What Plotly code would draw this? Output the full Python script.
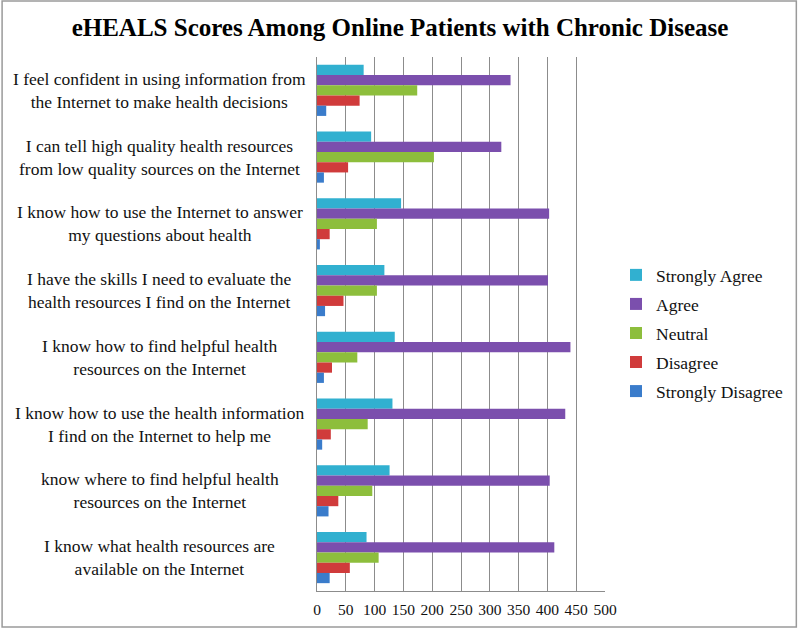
import plotly.graph_objects as go

category_lines = [
    ("I feel confident in using information from", "the Internet to make health decisions"),
    ("I can tell high quality health resources", "from low quality sources on the Internet"),
    ("I know how to use the Internet to answer", "my questions about health"),
    ("I have the skills I need to evaluate the", "health resources I find on the Internet"),
    ("I know how to find helpful health", "resources on the Internet"),
    ("I know how to use the health information", "I find on the Internet to help me"),
    ("know where to find helpful health", "resources on the Internet"),
    ("I know what health resources are", "available on the Internet"),
]
categories = [a + "<br>" + b for a, b in category_lines]
strongly_agree = [81, 94, 146, 117, 135, 131, 126, 86]
agree = [336, 320, 403, 401, 440, 431, 404, 412]
neutral = [174, 203, 104, 104, 70, 88, 96, 107]
disagree = [74, 54, 22, 46, 26, 24, 37, 57]
strongly_disagree = [16, 12, 5, 14, 12, 9, 20, 22]

series = [
    ("Strongly Agree", strongly_agree, "#31B0D0"),
    ("Agree", agree, "#7B4FAD"),
    ("Neutral", neutral, "#8DBE3C"),
    ("Disagree", disagree, "#D03B3B"),
    ("Strongly Disagree", strongly_disagree, "#3A7CCB"),
]
tick_vals = [0, 50, 100, 150, 200, 250, 300, 350, 400, 450, 500]

FONT = "Liberation Serif"
fig = go.Figure()
for i, (name, vals, col) in enumerate(series):
    fig.add_trace(go.Bar(y=categories, x=vals, name=name, orientation="h",
                         legendgroup="g%d" % i,
                         marker=dict(color=col, line=dict(width=0))))

L, R, T, B = 317, 194, 57, 38
W, H = 800, 629
pw, ph = W - L - R, H - T - B

for c in categories:
    fig.add_annotation(x=-158 / pw, xref="paper", y=c, yref="y", text=c,
                       showarrow=False, xanchor="center", yanchor="middle",
                       align="center",
                       font=dict(family=FONT, size=17.5, color="#111"))

fig.add_shape(type="rect", xref="paper", yref="paper",
              x0=(1 - L) / pw, x1=(798 - L) / pw,
              y0=-(627 - (T + ph)) / ph, y1=(T + ph - 1) / ph,
              line=dict(color="#9a9a9a", width=1.5), fillcolor="rgba(0,0,0,0)", layer="below")

fig.update_layout(
    width=W, height=H, autosize=False,
    margin=dict(l=L, r=R, t=T, b=B, pad=0),
    paper_bgcolor="white", plot_bgcolor="white",
    barmode="group", bargap=0.235, bargroupgap=0,
    title=dict(text="<b>eHEALS Scores Among Online Patients with Chronic Disease</b>",
               x=0.5, xref="container", xanchor="center", y=1 - 27 / H, yanchor="middle",
               font=dict(family=FONT, size=25, color="#000")),
    xaxis=dict(range=[0, 500], tickvals=tick_vals, showgrid=True, gridcolor="#8c8c8c",
               gridwidth=1, zeroline=False, showline=True, linecolor="#8c8c8c",
               ticks="", ticklabelstandoff=4,
               tickfont=dict(family=FONT, size=15.5, color="#111"), fixedrange=True),
    yaxis=dict(autorange="reversed", showticklabels=False, showline=True, linecolor="#8c8c8c",
               ticks="", showgrid=False),
    legend=dict(x=(616 - L) / pw, y=(T + ph - 257) / ph, xanchor="left", yanchor="top",
                font=dict(family=FONT, size=17.5, color="#111"), bgcolor="rgba(0,0,0,0)",
                itemwidth=30, traceorder="grouped", tracegroupgap=3.3),
    showlegend=True,
)
fig.write_html("out.html",
               config={"responsive": False, "displayModeBar": False},
               post_script="document.body.style.margin='0';document.body.style.overflow='hidden';")
